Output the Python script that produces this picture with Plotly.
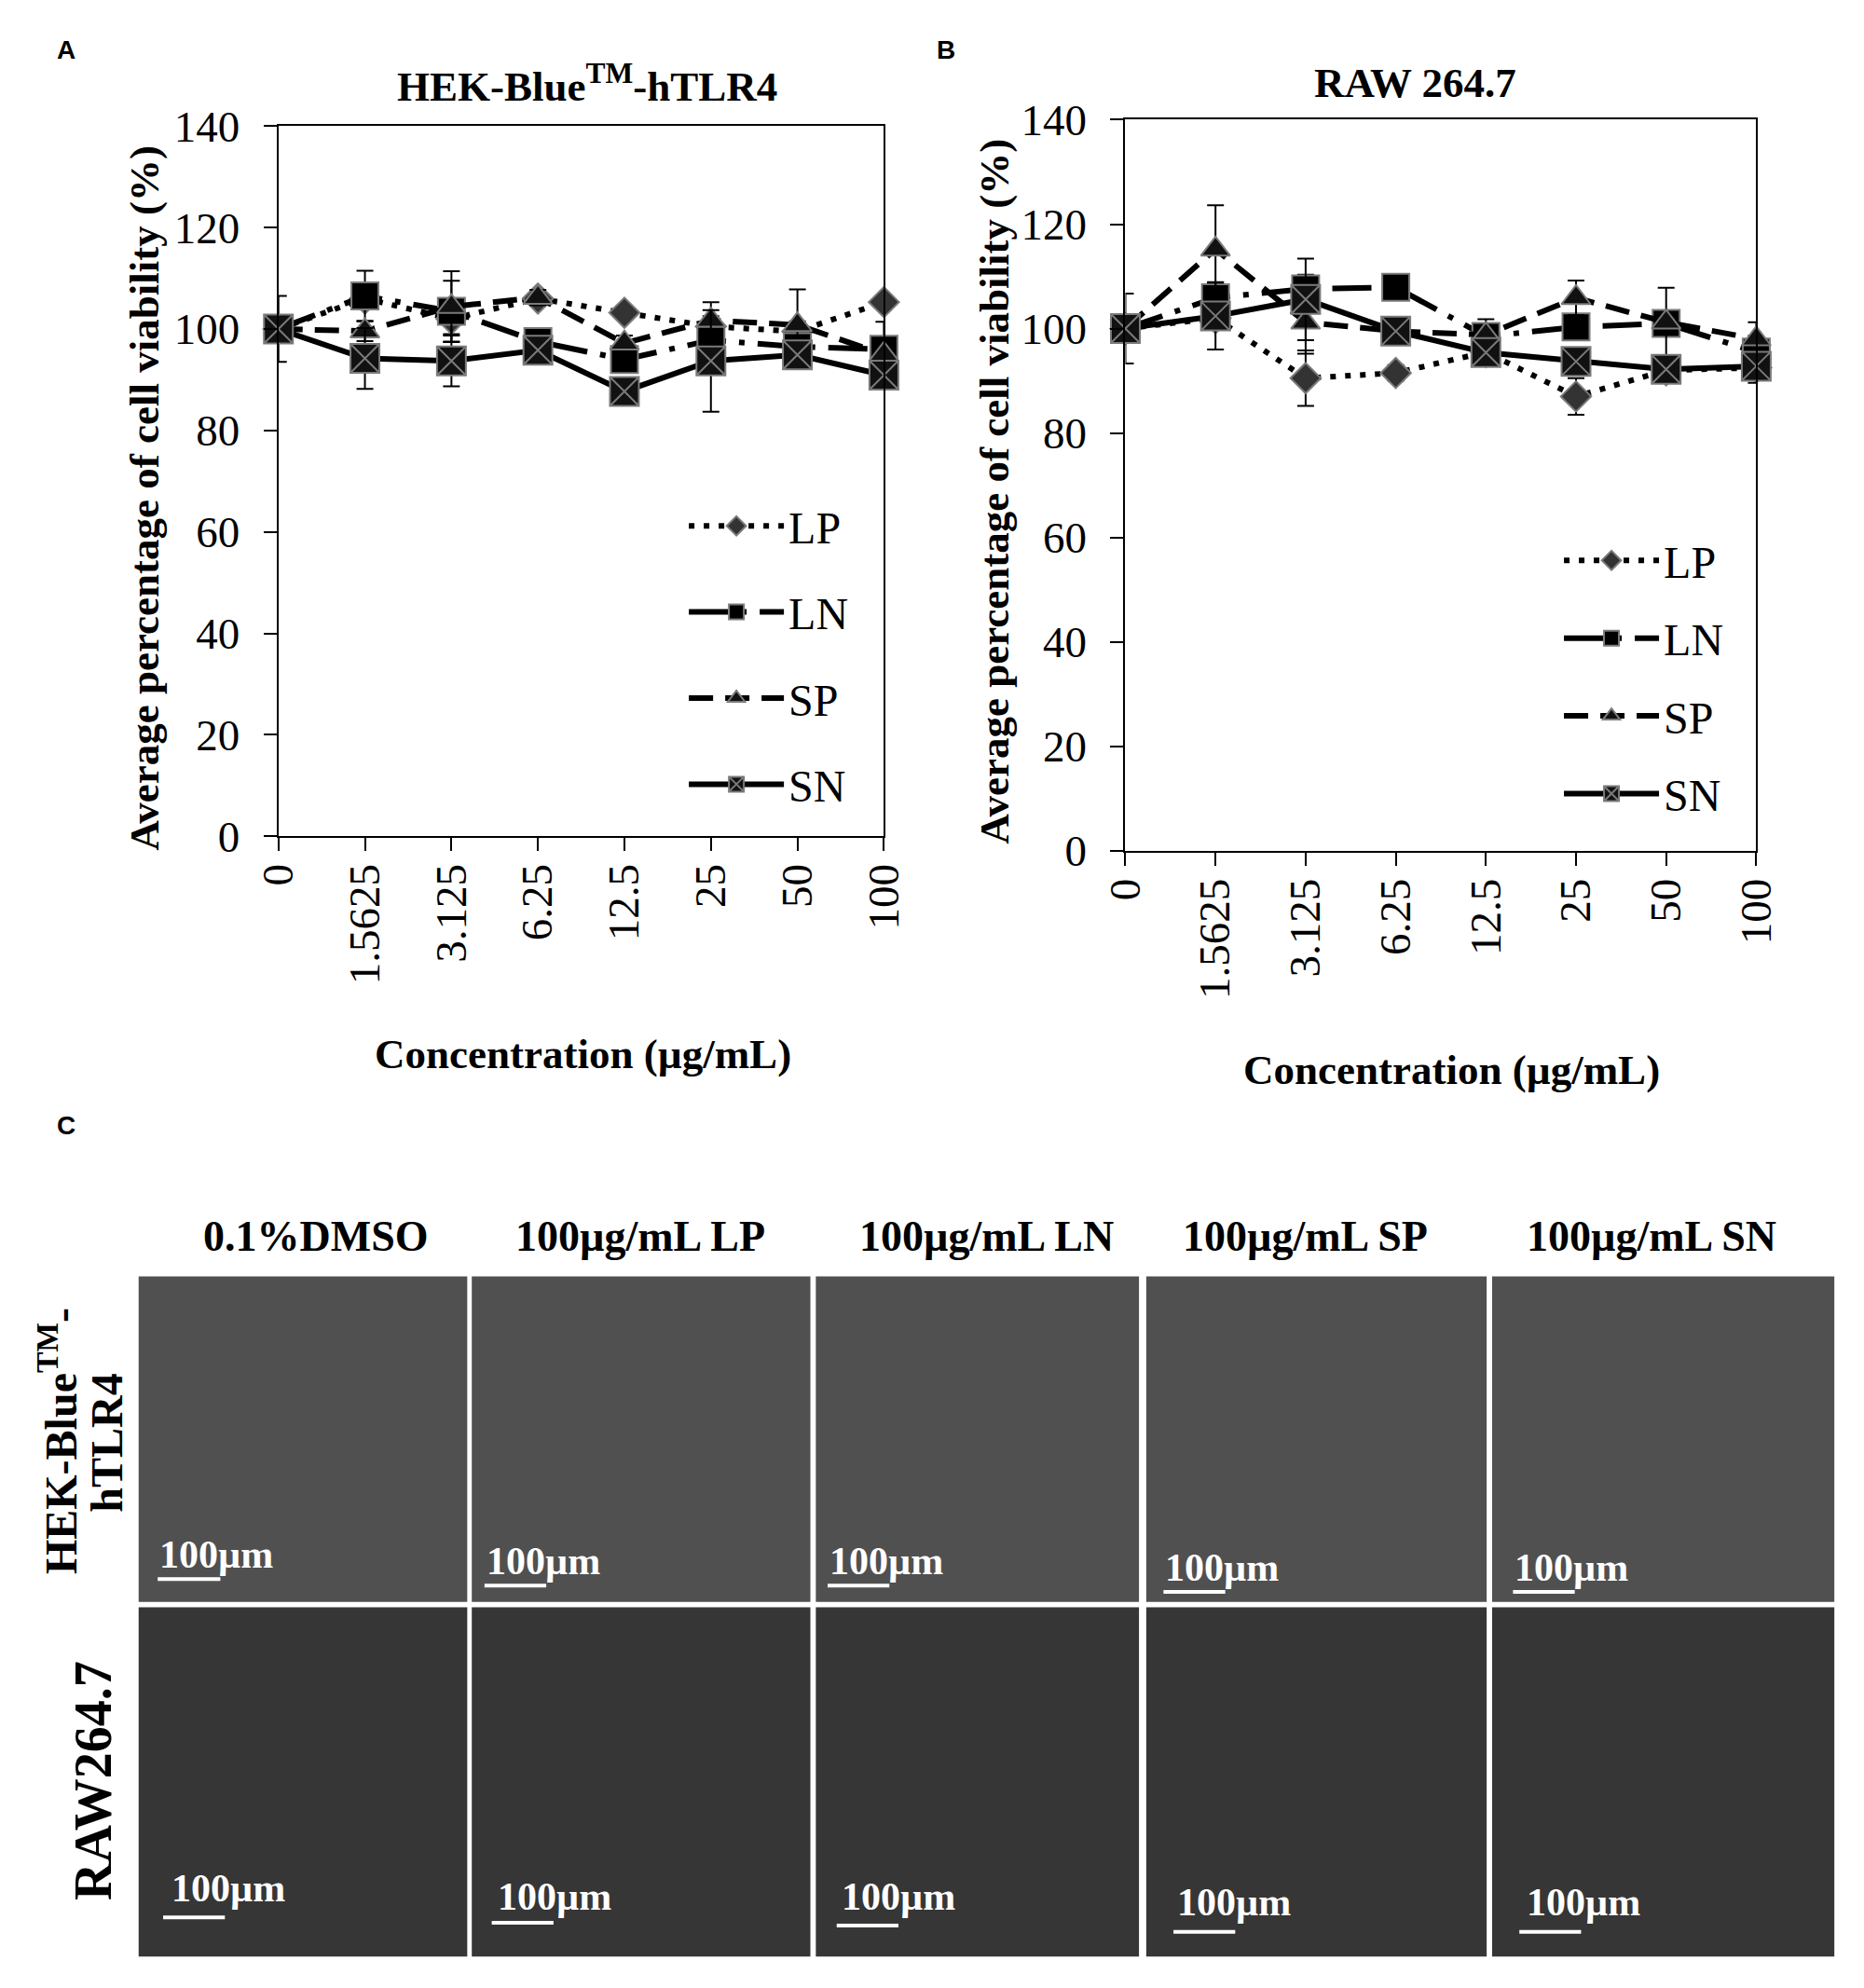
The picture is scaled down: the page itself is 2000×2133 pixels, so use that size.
import plotly.graph_objects as go

# ---------------- data ----------------
conc_labels = ["0", "1.5625", "3.125", "6.25", "12.5", "25", "50", "100"]
series_names = ["LP", "LN", "SP", "SN"]

A_LP = [100, 106.0, 102.0, 106.0, 103.2, 100.5, 99.5, 105.3]
A_LN = [100, 106.5, 103.5, 97.5, 94.0, 97.8, 96.5, 96.0]
A_SP = [100, 99.6, 104.4, 106.2, 97.2, 101.7, 100.8, 95.0]
A_SN = [100, 94.2, 93.7, 95.8, 87.7, 93.7, 94.9, 90.9]
A_LP_err = [0, 2, 3, 1, 1, 2, 2, 1]
A_LN_err = [0, 5, 6, 2, 2, 2, 2, 5.4]
A_SP_err = [0, 2, 7, 1.5, 1.5, 3.6, 7, 2]
A_SN_err = [6.5, 6, 5, 2, 1.5, 10, 2, 2]

B_LP = [100, 102.0, 90.5, 91.5, 95.5, 87.0, 92.0, 92.5]
B_LN = [100, 105.9, 107.6, 107.9, 98.5, 100.3, 101.0, 95.5]
B_SP = [100, 115.2, 101.2, 99.5, 98.8, 105.9, 101.2, 98.0]
B_SN = [100, 102.4, 105.6, 99.5, 95.4, 93.7, 92.2, 92.8]
B_LP_err = [0, 2, 5.3, 1.5, 1, 3.5, 1, 1]
B_LN_err = [0, 3, 2.7, 1, 1, 2, 2, 2]
B_SP_err = [0, 8.4, 6, 1.5, 3, 3.3, 6.6, 3.2]
B_SN_err = [6.7, 6.4, 7.8, 1.5, 1.5, 2, 1.5, 3.2]

y_ticks = [0, 20, 40, 60, 80, 100, 120, 140]

photo_cols = ["0.1%DMSO", "100µg/mL LP", "100µg/mL LN", "100µg/mL SP", "100µg/mL SN"]
photo_row1_lines = ["HEK-Blue<sup>TM</sup>-", "hTLR4"]
photo_row2 = "RAW264.7"
scale_label = "100µm"

# ---------------- style ----------------
W, H = 2000, 2133
SERIF = "Liberation Serif, Times New Roman, serif"
SANS = "Liberation Sans, Arial, sans-serif"

def px(x):
    return x / W

def py(y):
    return 1 - y / H

styles = {
    "LP": dict(dash="6px,10px", symbol="diamond", color="#333333", size=25),
    "LN": dict(dash="42px,14px,6px,14px", symbol="square", color="#000000", size=29),
    "SP": dict(dash="26px,13px", symbol="triangle-up", color="#111111", size=27),
    "SN": dict(dash="solid", symbol="square-x", color="#111111", size=31),
}

fig = go.Figure()

x_idx = list(range(len(conc_labels)))
panels = [
    ("x", "y", "legend", [A_LP, A_LN, A_SP, A_SN], [A_LP_err, A_LN_err, A_SP_err, A_SN_err]),
    ("x2", "y2", "legend2", [B_LP, B_LN, B_SP, B_SN], [B_LP_err, B_LN_err, B_SP_err, B_SN_err]),
]
for xa, ya, lg, vals, errs in panels:
    for name, v, e in zip(series_names, vals, errs):
        st = styles[name]
        fig.add_trace(go.Scatter(
            x=x_idx, y=v, name=name, mode="lines+markers",
            xaxis=xa, yaxis=ya, legend=lg, legendgroup=lg + name,
            line=dict(color="black", width=6, dash=st["dash"]),
            marker=dict(symbol=st["symbol"], size=st["size"], color=st["color"],
                        line=dict(color="#7a7a7a", width=2)),
            error_y=dict(type="data", array=e, visible=True, color="black",
                         thickness=2, width=9),
            cliponaxis=False,
        ))

axis_common = dict(
    showline=True, linecolor="black", linewidth=2, mirror=True,
    showgrid=False, zeroline=False, ticks="outside", ticklen=14,
    tickwidth=2, tickcolor="black",
    tickfont=dict(family=SERIF, size=47, color="black"),
)

# panel geometry (pixels)
A_box = (279, 946, 112, 893)
B_box = (1212, 1907, 105, 909)

def xaxis_for(box, anchor):
    return dict(axis_common, domain=[px(box[0]), px(box[1])], anchor=anchor,
                range=[0, len(conc_labels) - 1], tickmode="array",
                tickvals=x_idx, ticktext=conc_labels, tickangle=-90,
                ticklabelstandoff=-5)

def yaxis_for(box, anchor):
    return dict(axis_common, domain=[py(box[3]), py(box[2])], anchor=anchor,
                range=[0, 140], tickmode="array", tickvals=y_ticks,
                ticklabelstandoff=16)

legend_common = dict(
    font=dict(family=SERIF, size=48, color="black"),
    bgcolor="rgba(0,0,0,0)", borderwidth=0,
    itemwidth=102, xanchor="left", yanchor="top", itemclick=False,
)

fig.update_layout(
    width=W, height=H, margin=dict(l=0, r=0, t=0, b=0),
    paper_bgcolor="white", plot_bgcolor="white",
    showlegend=True,
    xaxis=xaxis_for(A_box, "y"),
    yaxis=yaxis_for(A_box, "x"),
    xaxis2=xaxis_for(B_box, "y2"),
    yaxis2=yaxis_for(B_box, "x2"),
    legend=dict(legend_common, x=px(726), y=py(513), tracegroupgap=27),
    legend2=dict(legend_common, x=px(1690), y=py(551), tracegroupgap=18),
)

ann = []
def text(x, y, s, size, family=SERIF, bold=True, color="black", angle=0,
         xanchor="center", yanchor="middle"):
    ann.append(dict(x=px(x), y=py(y), xref="paper", yref="paper",
                    text=("<b>%s</b>" % s) if bold else s, showarrow=False,
                    font=dict(family=family, size=size, color=color),
                    textangle=angle, xanchor=xanchor, yanchor=yanchor))

# panel letters
text(45, 28, "A", 28, family=SANS)
text(1014, 28, "B", 28, family=SANS)
text(45, 1211, "C", 28, family=SANS)

# panel titles
text(619, 65, "HEK-Blue<sup>TM</sup>-hTLR4", 45)
text(1531, 65, "RAW 264.7", 45)

# axis titles
text(614, 1133, "Concentration (µg/mL)", 45)
text(1571, 1150, "Concentration (µg/mL)", 45)
text(132, 521, "Average percentage of cell viability (%)", 45, angle=-90)
text(1068, 514, "Average percentage of cell viability (%)", 45, angle=-90)

# ---------------- panel C ----------------
col_px = [(125, 487), (492, 865), (871, 1227), (1235, 1610), (1616, 1993)]
row_px = [(1377, 1735), (1741, 2125)]
row_fill = ["#505050", "#363636"]
head_x = [320, 678, 1059, 1410, 1792]
# scale-bar text (left, centre y) and bar (x0, x1, y) positions (pixels)
sb_text = [[(146, 1683), (506, 1690), (884, 1690), (1254, 1697), (1639, 1697)],
           [(159, 2050), (518, 2059), (897, 2059), (1267, 2065), (1652, 2065)]]
sb_bar = [[(146, 215, 1710), (506, 574, 1717), (884, 952, 1717), (1254, 1322, 1724), (1639, 1707, 1724)],
          [(152, 220, 2082), (514, 582, 2088), (894, 962, 2091), (1265, 1333, 2098), (1646, 1714, 2098)]]

shapes = []
for r, (y0, y1) in enumerate(row_px):
    for c, (x0, x1) in enumerate(col_px):
        shapes.append(dict(type="rect", xref="paper", yref="paper",
                           x0=px(x0), x1=px(x1), y0=py(y1), y1=py(y0),
                           fillcolor=row_fill[r], line=dict(width=0), layer="below"))
        bx0, bx1, by = sb_bar[r][c]
        shapes.append(dict(type="line", xref="paper", yref="paper",
                           x0=px(bx0), x1=px(bx1), y0=py(by), y1=py(by),
                           line=dict(color="white", width=4)))
        tx, ty = sb_text[r][c]
        text(tx, ty, scale_label, 42, color="white", xanchor="left", yanchor="middle")

for c, label in enumerate(photo_cols):
    text(head_x[c], 1333, label, 46)

# row labels (two rotated lines for the first row)
text(36, 1558, photo_row1_lines[0], 48, angle=-90)
text(90, 1560, photo_row1_lines[1], 48, angle=-90)
text(75, 1932, photo_row2, 56, angle=-90)

fig.update_layout(annotations=ann, shapes=shapes)

reset_page = (
    "document.documentElement.style.margin='0';"
    "document.documentElement.style.padding='0';"
    "document.body.style.margin='0';"
    "document.body.style.padding='0';"
    "document.body.style.overflow='hidden';"
)
fig.write_html("out.html", post_script=reset_page,
               config={"displayModeBar": False})
